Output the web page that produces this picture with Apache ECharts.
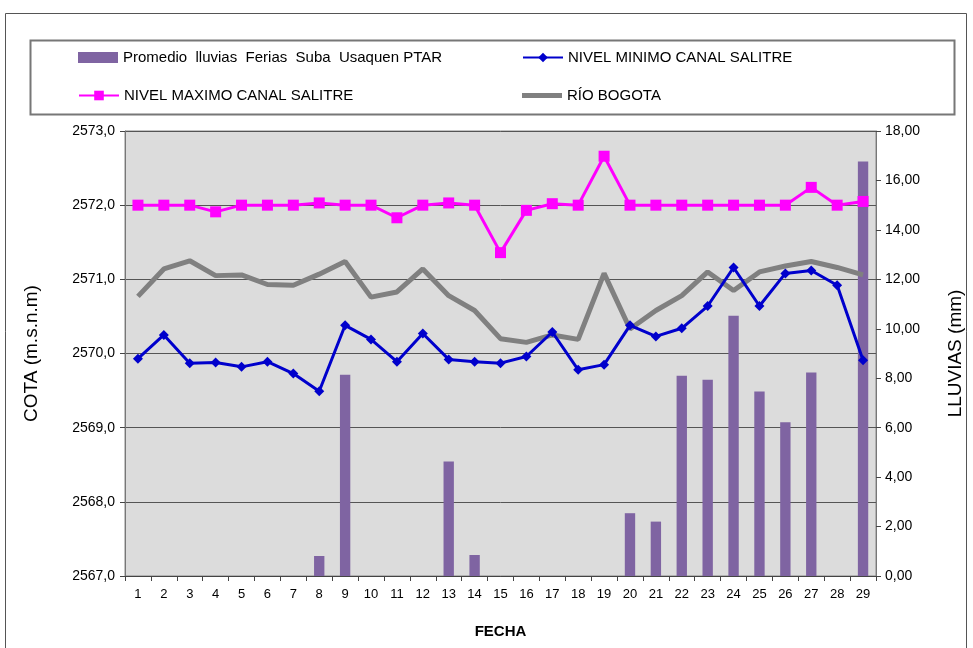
<!DOCTYPE html>
<html><head><meta charset="utf-8">
<script src="https://cdn.jsdelivr.net/npm/echarts@6/dist/echarts.min.js"></script>
<style>html,body{margin:0;padding:0;background:#fff}#c{width:973px;height:648px}</style>
</head><body><div id="c"></div>
<script>
const fechas = ['1','2','3','4','5','6','7','8','9','10','11','12','13','14','15','16','17','18','19','20','21','22','23','24','25','26','27','28','29'];
const lluvias = [0,0,0,0,0,0,0,0.81,8.14,0,0,0,4.63,0.85,0,0,0,0,0,2.54,2.20,8.10,7.94,10.53,7.46,6.22,8.23,0,16.77];
const nivelMinimo = [2569.93,2570.25,2569.87,2569.88,2569.82,2569.89,2569.73,2569.49,2570.38,2570.19,2569.89,2570.27,2569.92,2569.89,2569.87,2569.96,2570.29,2569.78,2569.85,2570.38,2570.23,2570.34,2570.64,2571.16,2570.64,2571.08,2571.12,2570.92,2569.91];
const nivelMaximo = [2572.0,2572.0,2572.0,2571.91,2572.0,2572.0,2572.0,2572.03,2572.0,2572.0,2571.83,2572.0,2572.03,2572.0,2571.36,2571.93,2572.02,2572.0,2572.66,2572.0,2572.0,2572.0,2572.0,2572.0,2572.0,2572.0,2572.24,2572.0,2572.05];
const rioBogota = [2570.77,2571.14,2571.25,2571.05,2571.06,2570.93,2570.92,2571.07,2571.24,2570.76,2570.83,2571.14,2570.78,2570.58,2570.20,2570.15,2570.25,2570.19,2571.08,2570.33,2570.58,2570.78,2571.10,2570.85,2571.10,2571.18,2571.24,2571.16,2571.06];
const names = ['Promedio  lluvias  Ferias  Suba  Usaquen PTAR','NIVEL MINIMO CANAL SALITRE','NIVEL MAXIMO CANAL SALITRE','RÍO BOGOTA'];

const FONT = '"Liberation Sans", Arial, sans-serif';
const chart = echarts.init(document.getElementById('c'), null, {renderer:'canvas'});
const legendText = {fontFamily: FONT, fontSize: 15, color: '#000'};
function lg(item, left, top, h){
  return {data:[item], left:left, top:top, itemWidth:40, itemHeight:h||12, itemGap:0, textStyle:legendText, selectedMode:false, padding:0};
}
chart.setOption({
  animation:false,
  backgroundColor:'#fff',
  graphic:[
    {type:'rect', shape:{x:5.5,y:13.5,width:961,height:660}, style:{fill:null, stroke:'#555', lineWidth:1}},
    {type:'rect', shape:{x:30.5,y:40.5,width:924,height:74}, style:{fill:'#fff', stroke:'#777', lineWidth:2}}
  ],
  legend:[
    lg({name:names[0], icon:'rect'}, 78, 50, 11),
    lg(names[1], 522, 50),
    lg(names[2], 78, 88),
    lg({name:names[3], icon:'rect'}, 522, 88, 5)
  ],
  grid:{left:125, right:97, top:131, bottom:72, show:true, backgroundColor:'#dcdcdc', borderColor:'#888', borderWidth:1, containLabel:false},
  xAxis:{
    type:'category', data:fechas, boundaryGap:true,
    name:'FECHA', nameLocation:'middle', nameGap:48,
    nameTextStyle:{fontFamily:FONT, fontSize:15, fontWeight:'bold', color:'#000'},
    axisLine:{lineStyle:{color:'#444', width:1}},
    axisTick:{show:true, interval:0, length:5, lineStyle:{color:'#444'}},
    axisLabel:{interval:0, fontFamily:FONT, fontSize:13, color:'#000', margin:12},
    splitLine:{show:false}
  },
  yAxis:[
    {type:'value', min:2567, max:2573, interval:1, position:'left',
     name:'COTA (m.s.n.m)', nameLocation:'middle', nameGap:84, nameRotate:90,
     nameTextStyle:{fontFamily:FONT, fontSize:19, color:'#000'},
     axisLine:{show:true, lineStyle:{color:'#777', width:1}},
     axisTick:{show:true, length:5, lineStyle:{color:'#444'}},
     axisLabel:{fontFamily:FONT, fontSize:14, color:'#000', margin:10, formatter:v=>v.toFixed(1).replace('.',',')},
     splitLine:{show:true, lineStyle:{color:'#555', width:1}}},
    {type:'value', min:0, max:18, interval:2, position:'right',
     name:'LLUVIAS (mm)', nameLocation:'middle', nameGap:70, nameRotate:90,
     nameTextStyle:{fontFamily:FONT, fontSize:19, color:'#000'},
     axisLine:{show:true, lineStyle:{color:'#777', width:1}},
     axisTick:{show:true, length:5, lineStyle:{color:'#444'}},
     axisLabel:{fontFamily:FONT, fontSize:14, color:'#000', margin:9, formatter:v=>v.toFixed(2).replace('.',',')},
     splitLine:{show:false}}
  ],
  series:[
    {name:names[0], type:'bar', yAxisIndex:1, data:lluvias, barWidth:'40%', itemStyle:{color:'#7f64a2'}, z:1},
    {name:names[1], type:'line', yAxisIndex:0, data:nivelMinimo, symbol:'diamond', symbolSize:10,
     lineStyle:{color:'#0000cc', width:3}, itemStyle:{color:'#0000cc'}, z:4},
    {name:names[2], type:'line', yAxisIndex:0, data:nivelMaximo, symbol:'rect', symbolSize:11,
     lineStyle:{color:'#ff00ff', width:3}, itemStyle:{color:'#ff00ff'}, z:5},
    {name:names[3], type:'line', yAxisIndex:0, data:rioBogota, symbol:'none', showSymbol:false,
     lineStyle:{color:'#808080', width:5}, itemStyle:{color:'#808080'}, z:3}
  ]
});
</script></body></html>
